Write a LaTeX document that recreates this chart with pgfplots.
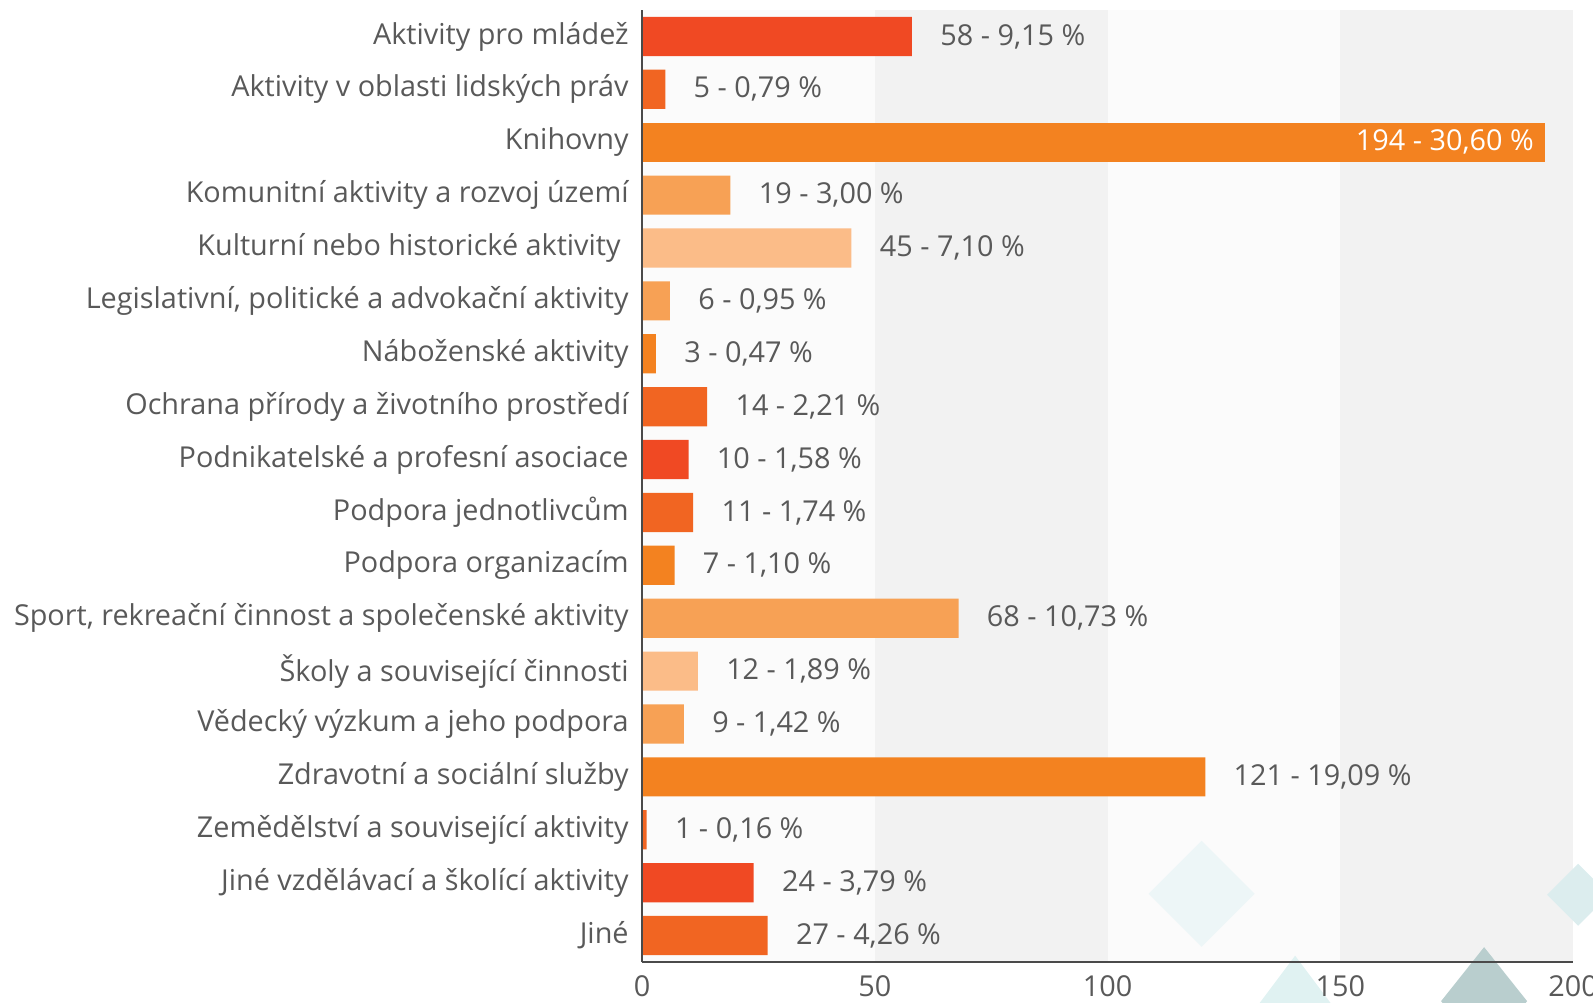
\documentclass[border=0pt]{standalone}
\usepackage{pgfplots}
\pgfplotsset{compat=1.18}
\usepackage{fontspec}
\setmainfont{Open Sans}
\definecolor{txt}{HTML}{595959}
\definecolor{axgray}{HTML}{4A4A4A}
\definecolor{bandA}{HTML}{FBFBFB}
\definecolor{bandB}{HTML}{F2F2F2}
\definecolor{cA}{HTML}{F04923}
\definecolor{cB}{HTML}{F16522}
\definecolor{cC}{HTML}{F38220}
\definecolor{cD}{HTML}{F7A155}
\definecolor{cE}{HTML}{FBBC88}
\definecolor{dA}{HTML}{EDF6F7}
\definecolor{dB}{HTML}{DCEDEE}
\definecolor{dC}{HTML}{E0F2F2}
\definecolor{dD}{HTML}{B9CECE}
\begin{document}
\begin{tikzpicture}[font=\fontsize{14.4}{17}\selectfont]
\begin{axis}[
  at={(321pt,20pt)}, anchor=south west, scale only axis,
  width=465.5pt, height=476pt,
  xmin=0, xmax=200, ymin=-0.5, ymax=17.5,
  xbar, bar width=19.6pt, bar shift=0pt,
  axis x line*=bottom, axis y line*=left,
  axis line style={draw=axgray, line width=1.2pt},
  axis on top, clip=false,
  major tick length=0pt,
  xtick={0,50,100,150,200},
  ytick={0,...,17},
  yticklabels={Jiné, Jiné vzdělávací a školící aktivity, Zemědělství a související aktivity, Zdravotní a sociální služby, Vědecký výzkum a jeho podpora, Školy a související činnosti, {Sport, rekreační činnost a společenské aktivity}, Podpora organizacím, Podpora jednotlivcům, Podnikatelské a profesní asociace, Ochrana přírody a životního prostředí, Náboženské aktivity, {Legislativní, politické a advokační aktivity}, Kulturní nebo historické aktivity\kern4pt, Komunitní aktivity a rozvoj území, Knihovny, Aktivity v oblasti lidských práv, Aktivity pro mládež},
  yticklabel style={anchor=east, inner sep=0pt, xshift=-6.5pt, text=txt},
  xticklabel style={anchor=north, inner sep=0pt, yshift=-6.5pt, text=txt},
  /pgf/number format/assume math mode=true,
  point meta=explicit symbolic,
  nodes near coords,
  every node near coord/.append style={anchor=west, inner sep=0pt, xshift=14pt, text=txt},
]
\fill[bandA] (axis cs:0,-0.5) rectangle (axis cs:50,17.5);
\fill[bandB] (axis cs:50,-0.5) rectangle (axis cs:100,17.5);
\fill[bandA] (axis cs:100,-0.5) rectangle (axis cs:150,17.5);
\fill[bandB] (axis cs:150,-0.5) rectangle (axis cs:200,17.5);
% decorative diamonds
\fill[dA] (axis cs:120.2,0.79) ++(-26.5pt,0pt) -- ++(26.5pt,26.5pt) -- ++(26.5pt,-26.5pt) -- ++(-26.5pt,-26.5pt) -- cycle;
\fill[dB] (axis cs:201.1,0.77) ++(-15.5pt,0pt) -- ++(15.5pt,15.5pt) -- ++(15.5pt,-15.5pt) -- ++(-15.5pt,-15.5pt) -- cycle;
\fill[dC] (axis cs:140.3,-1.44) ++(-21pt,0pt) -- ++(21pt,28pt) -- ++(21pt,-28pt) -- ++(-21pt,-28pt) -- cycle;
\fill[dD] (axis cs:180.9,-1.24) ++(-21.5pt,0pt) -- ++(21.5pt,27pt) -- ++(21.5pt,-27pt) -- ++(-21.5pt,-27pt) -- cycle;
% bars
\addplot[fill=cA, draw=none] coordinates {
  (58,17) [58 - 9,15 \%]
  (10,9) [10 - 1,58 \%]
  (24,1) [24 - 3,79 \%]
};
\addplot[fill=cB, draw=none] coordinates {
  (5,16) [5 - 0,79 \%]
  (14,10) [14 - 2,21 \%]
  (11,8) [11 - 1,74 \%]
  (1,2) [1 - 0,16 \%]
  (27,0) [27 - 4,26 \%]
};
\addplot[fill=cC, draw=none] coordinates {
  (3,11) [3 - 0,47 \%]
  (7,7) [7 - 1,10 \%]
  (121,3) [121 - 19,09 \%]
};
\addplot[fill=cC, draw=none, every node near coord/.append style={anchor=east, xshift=-19.5pt, text=white}] coordinates {
  (194,15) [194 - 30,60 \%]
};
\addplot[fill=cD, draw=none] coordinates {
  (19,14) [19 - 3,00 \%]
  (6,12) [6 - 0,95 \%]
  (68,6) [68 - 10,73 \%]
  (9,4) [9 - 1,42 \%]
};
\addplot[fill=cE, draw=none] coordinates {
  (45,13) [45 - 7,10 \%]
  (12,5) [12 - 1,89 \%]
};
\end{axis}
\pgfresetboundingbox
\path[use as bounding box] (0,0) rectangle (796.5pt,501pt);
\end{tikzpicture}
\end{document}
